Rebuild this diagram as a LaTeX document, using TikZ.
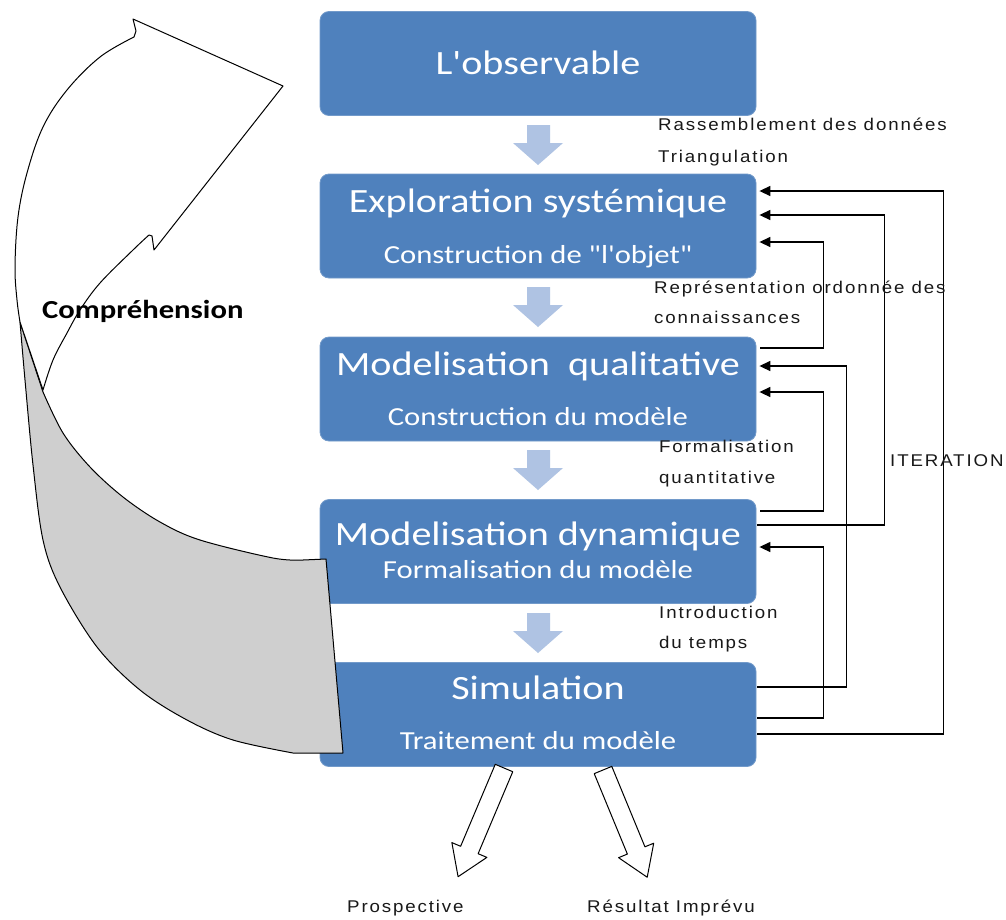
\documentclass[tikz,border=0pt]{standalone}
\usepackage{fontspec}
\usetikzlibrary{arrows.meta,calc}
\newfontfamily\boxfont[FakeStretch=1.18]{Carlito}
\newfontfamily\smallfont[FakeStretch=1.1,LetterSpace=11]{Liberation Sans}
\definecolor{boxblue}{HTML}{4F81BD}
\definecolor{lightarrow}{HTML}{AFC3E3}
\definecolor{ribbongray}{HTML}{CFCFCF}
\begin{document}
\begin{tikzpicture}[x=1pt,y=-1pt,
  box/.style={fill=boxblue, draw=boxblue!80!white, line width=0.8pt, rounded corners=9pt,
    minimum width=436pt, minimum height=104pt, inner sep=0pt},
  title/.style={anchor=base, text=white, font=\boxfont\fontsize{34}{40}\selectfont, inner sep=0pt},
  subtitle/.style={anchor=base, text=white, font=\boxfont\fontsize{26}{30}\selectfont, inner sep=0pt},
  note/.style={anchor=base west, text=black!90, font=\smallfont\fontsize{17}{20}\selectfont, inner sep=0pt},
  iter/.style={line width=1.4pt, -{Triangle[length=11pt,width=10pt]}},
  outline/.style={line width=1pt, line join=round},
  downarrow/.style={fill=lightarrow},
  outarrow/.style={draw, fill=white, line width=1pt, line join=round}
]
\useasboundingbox (0,0) rectangle (1006,919);
\fill[white] (0,0) rectangle (1006,919);

% boxes
\node[box] (b1) at (538,63.5) {};
\node[box] (b2) at (538,226) {};
\node[box] (b3) at (538,389) {};
\node[box] (b4) at (538,551.5) {};
\node[box] (b5) at (538,714.5) {};

\node[title] (t1) at (538,74) {L'observable};
\node[title] (t2) at (538,212) {Exploration systémique};
\node[subtitle] (s2) at (538,263) {Construction de "l'objet"};
\node[title] (t3) at (538,375) {Modelisation\ \ qualitative};
\node[subtitle] (s3) at (538,425) {Construction du modèle};
\node[title] (t4) at (538,545) {Modelisation dynamique};
\node[subtitle] (s4) at (538,578) {Formalisation du modèle};
\node[title] (t5) at (538,699) {Simulation};
\node[subtitle] (s5) at (538,749) {Traitement du modèle};

% curved ribbon arrow (Compréhension)
\draw[outline, fill=ribbongray]
  plot[smooth, tension=0.55] coordinates {(20,322) (25,380) (33,465) (43,540) (60,587) (97,647) (140,690) (187,720) (233,740) (293,753)}
  -- (343,753) -- (326,559) -- (303,560)
  -- plot[smooth, tension=0.55] coordinates {(303,560) (273,558) (200,540) (160,522) (123,497) (90,467) (63,433) (43,392)}
  -- cycle;
\draw[outline, fill=white]
  (136,31) -- (133,19) -- (283,86) -- (154,250) -- (152,236) -- (149,235)
  -- plot[smooth, tension=0.6] coordinates {(149,235) (133,250) (100,283) (80,310) (67,333) (53,360) (43,390)}
  -- (20,322)
  -- plot[smooth, tension=0.6] coordinates {(20,322) (17,300) (15,267) (18,217) (27,173) (43,127) (67,90) (100,57) (134,37)}
  -- cycle;

% light down arrows between boxes
\foreach \yc in {145,307,470,633}{
  \fill[downarrow] (527,\yc-20) -- (550,\yc-20) -- (550,\yc-2) -- (563,\yc-2)
    -- (538,\yc+20) -- (513,\yc-2) -- (527,\yc-2) -- cycle;
}

% output arrows
\begin{scope}[shift={(504,768)}, rotate=-112.9]
  \draw[outarrow] (0,-9.5) -- (89,-9.5) -- (89,-19) -- (118,0) -- (89,19) -- (89,9.5) -- (0,9.5) -- cycle;
\end{scope}
\begin{scope}[shift={(603,770)}, rotate=-67.6]
  \draw[outarrow] (0,-9.5) -- (87,-9.5) -- (87,-19) -- (116,0) -- (87,19) -- (87,9.5) -- (0,9.5) -- cycle;
\end{scope}

% iteration connectors
\draw[iter] ($(b5.east)+(1,19.5)$) -| ($(b2.east)+(187,-35)$) -- ($(b2.east)+(3,-35)$);
\draw[iter] ($(b4.east)+(1,-26.5)$) -| ($(b2.east)+(128,-11)$) -- ($(b2.east)+(3,-11)$);
\draw[iter] ($(b3.east)+(4,-41)$) -| ($(b2.east)+(67,16)$) -- ($(b2.east)+(3,16)$);
\draw[iter] ($(b5.east)+(1,-27.5)$) -| ($(b3.east)+(90,-23)$) -- ($(b3.east)+(3,-23)$);
\draw[iter] ($(b4.east)+(4,-40.5)$) -| ($(b3.east)+(67,3)$) -- ($(b3.east)+(3,3)$);
\draw[iter] ($(b5.east)+(1,3.5)$) -| ($(b4.east)+(67,-4.5)$) -- ($(b4.east)+(3,-4.5)$);

% side notes
\node[note] (n1) at (658,130) {Rassemblement des données};
\node[note] (n2) at (658,162) {Triangulation};
\node[note] (n3) at (654,293) {Représentation ordonnée des};
\node[note] (n4) at (654,323) {connaissances};
\node[note] (n5) at (659,452) {Formalisation};
\node[note] (n6) at (659,483) {quantitative};
\node[note] (n7) at (890,466) {ITERATION};
\node[note] (n8) at (659,618) {Introduction};
\node[note] (n9) at (659,648) {du temps};
\node[note] (p1) at (347,912) {Prospective};
\node[note] (p2) at (587,912) {Résultat Imprévu};

\node[anchor=base west, inner sep=0pt, font=\boxfont\bfseries\fontsize{26}{30}\selectfont] (comp) at (42,318) {Compréhension};
\end{tikzpicture}
\end{document}
